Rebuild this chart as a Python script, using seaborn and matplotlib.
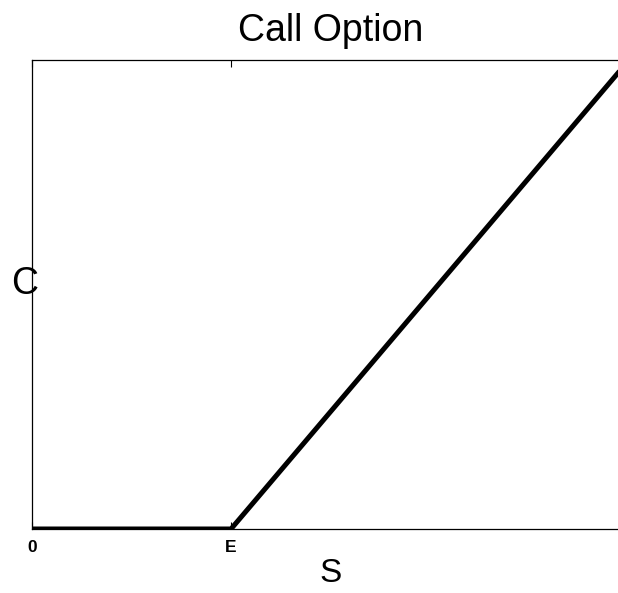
import matplotlib
matplotlib.use("Agg")
import matplotlib.pyplot as plt
import seaborn as sns
import pandas as pd

# Data
S_values = [0.0, 1.0, 3.0]
C_values = [0.0, 0.0, 2.0]
tick_positions = [0.0, 1.0]
tick_labels = ["0", "E"]

sns.set_style("white")
plt.rcParams['font.family'] = ['Liberation Sans', 'DejaVu Sans']
plt.rcParams['text.color'] = 'black'
plt.rcParams['axes.labelcolor'] = 'black'
plt.rcParams['xtick.color'] = 'black'

df = pd.DataFrame({"S": S_values, "C": C_values})

W, H = 618, 593
fig = plt.figure(figsize=(W / 100, H / 100), dpi=100)
left, right, top, bottom = 32, 629, 60, 529
ax = fig.add_axes([left / W, (H - bottom) / H, (right - left) / W, (bottom - top) / H])

sns.lineplot(data=df, x="S", y="C", ax=ax, color="black", linewidth=3.6)

ax.set_xlim(0, 3)
ax.set_ylim(0, 2)
ax.set_xticks(tick_positions)
ax.set_xticklabels(tick_labels, fontweight="bold", fontsize=12.5)
ax.set_yticks([])
ax.tick_params(axis="x", direction="in", top=True, bottom=True, length=5, width=0.8, pad=8, colors="black")
for sp in ax.spines.values():
    sp.set_color("black")
    sp.set_linewidth(0.9)

ax.set_xlabel("S", fontsize=24, labelpad=2, color="black")
ax.set_ylabel("C", fontsize=27, rotation=0, va="center", ha="center", color="black")
ax.yaxis.set_label_coords(-0.012, 0.522)
ax.set_title("Call Option", fontsize=27, pad=14, color="black")

fig.savefig("out.png", dpi=100)
